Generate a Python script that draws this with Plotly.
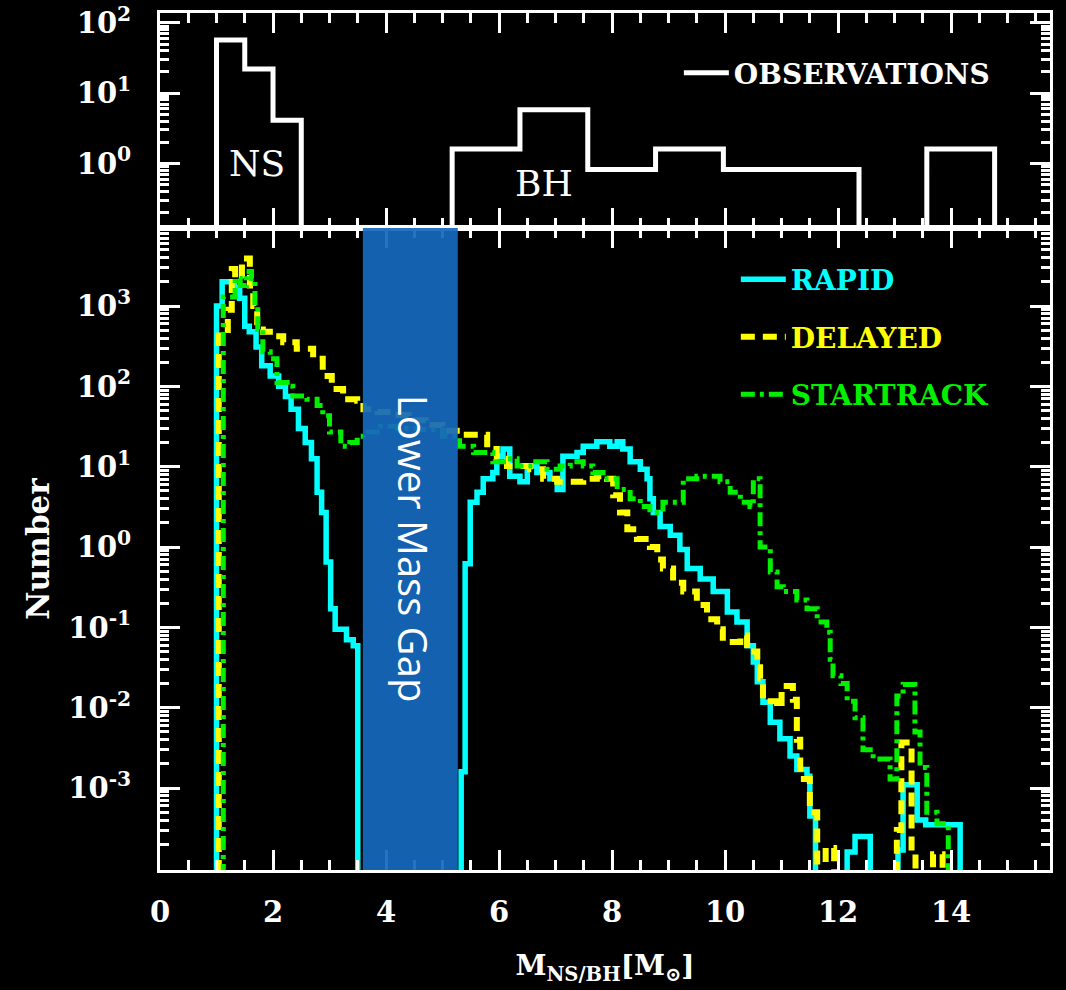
import plotly.graph_objects as go

# ---------------- data ----------------
# Observed mass distribution (top panel): bin edges and counts
obs_edges = [1.0, 1.5, 2.0, 2.5, 5.17, 6.37, 7.57, 8.77, 9.97, 11.17, 12.37, 13.57, 14.77]
obs_counts = [57, 22, 4.1, 0, 1.6, 5.8, 0.82, 1.6, 0.82, 0.82, 0, 1.6]

# RAPID supernova model
rapid_edges = [1.00, 1.10, 1.32, 1.41, 1.50, 1.58, 1.70, 1.80, 1.95, 2.10,
               2.22, 2.32, 2.45, 2.57, 2.68, 2.78, 2.86, 2.94, 3.02, 3.10,
               3.30, 3.42, 3.50, 5.33, 5.40, 5.49, 5.61, 5.72, 5.89, 5.96,
               6.07, 6.19, 6.37, 6.50, 6.67, 6.90, 7.03, 7.13, 7.38, 7.49,
               7.73, 7.96, 8.09, 8.19, 8.32, 8.50, 8.62, 8.67, 8.73, 8.85,
               9.03, 9.20, 9.33, 9.56, 9.79, 10.04, 10.21, 10.39, 10.50, 10.57,
               10.67, 10.80, 10.97, 11.15, 11.27, 11.45, 11.50, 11.60, 12.16, 12.30,
               12.57, 13.06, 13.15, 13.40, 13.55, 14.16]
rapid_counts = [1000, 2000, 1700, 1250, 560, 480, 310, 180, 135, 100,
                75, 52, 30, 20, 12.6, 4.8, 2.7, 0.65, 0.17, 0.095,
                0.07, 0.059, 0, 0.0016, 0.62, 3.6, 4.8, 7.1, 8.5, 13.5,
                16.6, 7.6, 6.5, 10.2, 8.5, 7.1, 5.2, 13.5, 15, 18,
                20.4, 18, 20.4, 16.6, 11.5, 9.3, 7.1, 4.0, 2.7, 1.8,
                1.4, 0.93, 0.54, 0.40, 0.28, 0.155, 0.117, 0.059, 0.037, 0.021,
                0.0117, 0.0066, 0.0041, 0.0025, 0.0017, 0.0014, 0.00045, 0, 0.00016, 0.00025,
                0, 0.00017, 0.0011, 0.0004, 0.00035]

# DELAYED supernova model
delayed_edges = [1.04, 1.20, 1.27, 1.33, 1.45, 1.59, 1.65, 1.72, 1.82, 2.00,
                 2.18, 2.42, 2.71, 2.88, 3.04, 3.24, 3.49, 3.60, 3.85, 4.10,
                 4.40, 4.70, 5.00, 5.31, 5.79, 5.96, 6.14, 6.55, 6.78, 7.03,
                 7.49, 7.73, 7.91, 8.02, 8.14, 8.27, 8.44, 8.67, 8.80, 8.90,
                 9.08, 9.26, 9.50, 9.68, 9.86, 9.96, 10.27, 10.39, 10.57, 10.62,
                 10.67, 10.92, 11.00, 11.20, 11.27, 11.33, 11.50, 11.63, 11.78, 11.93,
                 13.04, 13.12, 13.30, 13.37, 13.68, 13.85]
delayed_counts = [430, 900, 2900, 2200, 3900, 1800, 1000, 510, 480, 420,
                  355, 295, 220, 135, 93, 69, 66, 52, 48, 44,
                  38, 33, 28, 25, 16.6, 12.6, 10.2, 9.3, 7.1, 6.5,
                  7.1, 7.6, 7.1, 4.4, 2.7, 1.66, 1.26, 1.0, 0.70, 0.54,
                  0.36, 0.28, 0.19, 0.126, 0.095, 0.066, 0.079, 0.05, 0.032, 0.023,
                  0.012, 0.010, 0.0186, 0.0126, 0.004, 0.0013, 0.0005, 0, 0.00018, 0,
                  0.0003, 0.0037, 0.00015, 0, 0.00015]

# STARTRACK model
startrack_edges = [1.12, 1.33, 1.42, 1.53, 1.62, 1.68, 1.73, 1.82, 1.95, 2.07,
                   2.25, 2.35, 2.60, 2.78, 2.88, 3.00, 3.20, 3.36, 3.49, 3.60,
                   3.90, 4.20, 4.60, 5.00, 5.30, 5.55, 5.89, 6.14, 6.32, 6.60,
                   6.85, 7.08, 7.26, 7.49, 7.66, 7.84, 8.09, 8.32, 8.50, 8.67,
                   8.90, 9.26, 9.50, 9.91, 10.09, 10.27, 10.44, 10.50, 10.62, 10.80,
                   10.92, 11.03, 11.27, 11.45, 11.63, 11.80, 11.86, 11.91, 12.05, 12.16,
                   12.30, 12.44, 12.62, 12.92, 13.04, 13.15, 13.36, 13.45, 13.57, 13.75,
                   13.95]
startrack_counts = [1300, 2200, 1800, 2700, 2200, 1000, 510, 270, 220, 112,
                    100, 76, 69, 58, 43, 27, 18, 20, 24, 27,
                    32, 30, 29, 24, 18, 15, 11.5, 12.6, 10.2, 11.5,
                    9.3, 10.2, 11.5, 10.2, 8.5, 7.1, 5.2, 4.0, 3.2, 2.7,
                    3.6, 7.1, 7.6, 6.5, 4.8, 3.6, 3.2, 7.1, 1.0, 0.49,
                    0.32, 0.28, 0.22, 0.17, 0.117, 0.087, 0.04, 0.025, 0.02, 0.012,
                    0.0075, 0.003, 0.0023, 0.0013, 0.014, 0.0195, 0.005, 0.0018, 0.0005, 0.00036]

gap_range = [3.59, 5.27]          # lower mass gap band (M_sun)

bottom_tickvals = [1e-3, 1e-2, 1e-1, 1, 10, 100, 1000]
bottom_ticktext = ["10<sup>-3</sup>", "10<sup>-2</sup>", "10<sup>-1</sup>", "10<sup>0</sup>",
                   "10<sup>1</sup>", "10<sup>2</sup>", "10<sup>3</sup>"]
top_tickvals = [1, 10, 100]
top_ticktext = ["10<sup>0</sup>", "10<sup>1</sup>", "10<sup>2</sup>"]
x_tickvals = [0, 2, 4, 6, 8, 10, 12, 14]

# ---------------- helpers ----------------
EMPTY = 1e-9   # empty bins fall below the log-axis floor (drawn as drop to bottom)


def step_outline(edges, counts):
    assert len(edges) == len(counts) + 1
    xs = [edges[0]] + list(edges)
    ys = [EMPTY] + [c if c > 0 else EMPTY for c in counts] + [EMPTY]
    return xs, ys


def minor_log(lo, hi):
    return [m * 10.0 ** e for e in range(lo, hi) for m in range(2, 10)]


SERIF = "DejaVu Serif"
WHITE = "white"
TICKFONT = dict(family=SERIF, size=29, color=WHITE, weight="bold")

fig = go.Figure()

# top panel: observations
ox, oy = step_outline(obs_edges, obs_counts)
fig.add_trace(go.Scatter(x=ox, y=oy, mode="lines", line_shape="hv",
                         line=dict(color=WHITE, width=5),
                         name="OBSERVATIONS", xaxis="x2", yaxis="y2",
                         legend="legend"))

# bottom panel: models
for edges, counts, name, color, dash, width, grp in [
    (rapid_edges, rapid_counts, "RAPID", "#00FFFF", "solid", 5.5, "a"),
    (delayed_edges, delayed_counts, "DELAYED", "#FFFF00", "14px,8px", 6, "b"),
    (startrack_edges, startrack_counts, "STARTRACK", "#00F000", "14px,5px,4px,5px", 5, "c"),
]:
    sx, sy = step_outline(edges, counts)
    fig.add_trace(go.Scatter(x=sx, y=sy, mode="lines", line_shape="hv",
                             line=dict(color=color, width=width, dash=dash),
                             name=f"<span style='color:{color}'>{name}</span>",
                             legendgroup=grp, legend="legend2",
                             xaxis="x", yaxis="y"))

tick_common = dict(showline=True, linecolor=WHITE, linewidth=3, mirror="allticks",
                   ticks="inside", tickcolor=WHITE, tickwidth=2.5,
                   showgrid=False, zeroline=False, automargin=False)

xcommon = dict(tick_common, range=[0, 15.75], tickmode="array", tickvals=x_tickvals,
               ticklen=20,
               minor=dict(ticks="inside", ticklen=10, tickwidth=2.5, tickcolor=WHITE,
                          dtick=0.5, tick0=0, showgrid=False))

fig.update_layout(
    width=1066, height=990,
    paper_bgcolor="black", plot_bgcolor="black",
    margin=dict(l=160, r=16, t=13, b=120, autoexpand=False),
    font=dict(family=SERIF, color=WHITE, size=30, weight="bold"),
    xaxis=dict(xcommon, anchor="y", domain=[0, 1],
               tickfont=TICKFONT,
               ticklabelstandoff=14, ticklabeloverflow="allow",
               title=dict(text="M<sub>NS/BH</sub>[M<sub>⊙</sub>]",
                          font=dict(family=SERIF, size=28, color=WHITE, weight="bold"),
                          standoff=28)),
    xaxis2=dict(xcommon, anchor="y2", matches="x", showticklabels=False),
    yaxis=dict(tick_common, type="log", domain=[0, 0.749], range=[-4.02, 3.97],
               tickmode="array", tickvals=bottom_tickvals, ticktext=bottom_ticktext,
               ticklen=20,
               minor=dict(ticks="inside", ticklen=9, tickwidth=2.5, tickcolor=WHITE,
                          tickmode="array", tickvals=minor_log(-4, 4), showgrid=False),
               tickfont=TICKFONT,
               ticklabelstandoff=20, ticklabeloverflow="allow",
               title=dict(text="Number",
                          font=dict(family=SERIF, size=31, color=WHITE, weight="bold"),
                          standoff=10)),
    yaxis2=dict(tick_common, type="log", domain=[0.749, 1], range=[-0.92, 2.14],
                tickmode="array", tickvals=top_tickvals, ticktext=top_ticktext,
                ticklen=20,
                minor=dict(ticks="inside", ticklen=9, tickwidth=2.5, tickcolor=WHITE,
                           tickmode="array", tickvals=minor_log(-1, 3), showgrid=False),
                tickfont=TICKFONT,
                ticklabelstandoff=20, ticklabeloverflow="allow"),
    legend=dict(x=0.583, y=0.93, xanchor="left", yanchor="middle",
                bgcolor="rgba(0,0,0,0)", itemwidth=45,
                font=dict(family=SERIF, size=28, color=WHITE, weight="bold")),
    legend2=dict(x=0.647, y=0.718, xanchor="left", yanchor="top",
                 bgcolor="rgba(0,0,0,0)", itemwidth=45, traceorder="grouped",
                 tracegroupgap=18,
                 font=dict(family=SERIF, size=28, color=WHITE, weight="bold")),
    showlegend=True,
)

# lower mass gap band
fig.add_shape(type="rect", xref="x", yref="y domain",
              x0=gap_range[0], x1=gap_range[1], y0=0, y1=1,
              fillcolor="#1468BC", opacity=0.93, line_width=0, layer="above")
fig.add_annotation(xref="x", yref="y domain", x=4.5, y=0.5,
                   text="Lower Mass Gap", textangle=90, showarrow=False,
                   font=dict(family="Open Sans", size=40, color=WHITE, weight="normal"))

# NS / BH labels in the top panel (log10 units on log axis)
fig.add_annotation(xref="x2", yref="y2", x=1.72, y=0.0, text="NS", showarrow=False,
                   font=dict(family=SERIF, size=36, color=WHITE, weight="normal"))
fig.add_annotation(xref="x2", yref="y2", x=6.8, y=-0.28, text="BH", showarrow=False,
                   font=dict(family=SERIF, size=36, color=WHITE, weight="normal"))

# remove the page's default white 8px body margin so the black figure fills the window
fig.write_html("out.html",
               config={"displayModeBar": False},
               post_script="document.body.style.margin='0';"
                           "document.body.style.background='black';")
